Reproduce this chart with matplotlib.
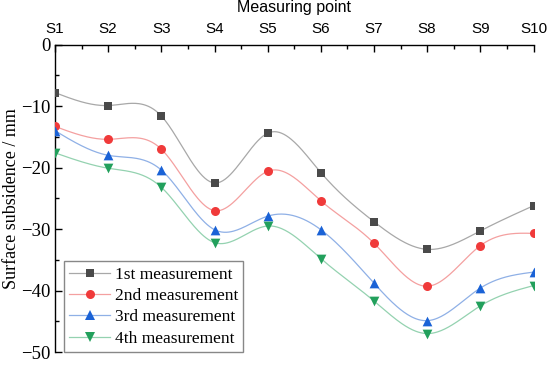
import numpy as np
import matplotlib
matplotlib.use("Agg")
import matplotlib.pyplot as plt
from matplotlib.ticker import MultipleLocator

points = ["S1", "S2", "S3", "S4", "S5", "S6", "S7", "S8", "S9", "S10"]
m1 = [-7.8, -9.9, -11.6, -22.5, -14.4, -20.8, -28.8, -33.3, -30.3, -26.2]
m2 = [-13.3, -15.4, -17.0, -27.0, -20.6, -25.4, -32.3, -39.3, -32.7, -30.7]
m3 = [-14.0, -18.0, -20.4, -30.1, -27.9, -30.1, -38.8, -44.9, -39.6, -37.0]
m4 = [-17.6, -20.1, -23.2, -32.2, -29.5, -34.8, -41.7, -47.0, -42.5, -39.2]
labels = ["1st measurement", "2nd measurement", "3rd measurement", "4th measurement"]

marker_colors = ["#4a4a4a", "#f03a3a", "#1a62d6", "#22a05c"]
line_colors = ["#a8a8a8", "#f4a0a0", "#8fb0e6", "#94d2b0"]
markers = ["s", "o", "^", "v"]
msizes = [6, 6.5, 7, 7]


def natural_spline(x, y, n=400):
    x = np.asarray(x, float)
    y = np.asarray(y, float)
    k = len(x)
    h = np.diff(x)
    A = np.zeros((k, k))
    b = np.zeros(k)
    A[0, 0] = 1
    A[-1, -1] = 1
    for i in range(1, k - 1):
        A[i, i - 1] = h[i - 1]
        A[i, i] = 2 * (h[i - 1] + h[i])
        A[i, i + 1] = h[i]
        b[i] = 3 * ((y[i + 1] - y[i]) / h[i] - (y[i] - y[i - 1]) / h[i - 1])
    c = np.linalg.solve(A, b)
    xs = np.linspace(x[0], x[-1], n)
    ys = np.empty_like(xs)
    for j, xv in enumerate(xs):
        i = min(np.searchsorted(x, xv, side="right") - 1, k - 2)
        dx = xv - x[i]
        bi = (y[i + 1] - y[i]) / h[i] - h[i] * (2 * c[i] + c[i + 1]) / 3
        di = (c[i + 1] - c[i]) / (3 * h[i])
        ys[j] = y[i] + bi * dx + c[i] * dx ** 2 + di * dx ** 3
    return xs, ys


fig = plt.figure(figsize=(5.5, 3.65), dpi=100)
ax = fig.add_axes([0.1, 0.0356, 0.87, 0.842])

xpos = np.arange(len(points))
serif = "Liberation Serif"
for vals, lab, mc, lc, mk, ms in zip([m1, m2, m3, m4], labels, marker_colors, line_colors, markers, msizes):
    xs, ys = natural_spline(xpos, vals)
    ax.plot(xs, ys, color=lc, lw=0.9, zorder=2)
    ax.scatter(xpos, vals, marker=mk, color=mc, s=ms ** 2, linewidths=0, zorder=3)
    ax.plot([], [], color=lc, lw=0.9, marker=mk, markerfacecolor=mc,
            markeredgewidth=0, markersize=ms, label=lab)

ax.set_xlim(0, len(points) - 1)
ax.set_ylim(-50, 0)
ax.xaxis.tick_top()
ax.xaxis.set_label_position("top")
ax.set_xticks(xpos)
ax.set_xticklabels(points, family="Liberation Sans", fontsize=11)
ax.xaxis.set_minor_locator(MultipleLocator(0.5))
ax.set_yticks([0, -10, -20, -30, -40, -50])
ax.set_yticklabels(["0", "\u221210", "\u221220", "\u221230", "\u221240", "\u221250"],
                   family=serif, fontsize=13.5)
ax.yaxis.set_minor_locator(MultipleLocator(5))
ax.tick_params(axis="x", which="major", direction="in", length=5, width=1, pad=6)
ax.tick_params(axis="x", which="minor", direction="in", length=3, width=1)
ax.tick_params(axis="y", which="major", direction="in", length=5, width=1, pad=3)
ax.tick_params(axis="y", which="minor", direction="in", length=3, width=1)
ax.spines["right"].set_visible(False)
ax.spines["bottom"].set_visible(False)
ax.spines["left"].set_linewidth(1)
ax.spines["top"].set_linewidth(1)

ax.set_xlabel("Measuring point", family="Liberation Sans", fontsize=11.5, labelpad=7.5)
ax.set_ylabel("Surface subsidence / mm", family=serif, fontsize=13, labelpad=1)

leg = ax.legend(loc="lower left", bbox_to_anchor=(0.018, 0.0),
                prop={"family": serif, "size": 12.5},
                frameon=True, fancybox=False, edgecolor="#888888", framealpha=1,
                handlelength=2.4, handletextpad=0.25, borderpad=0.3, labelspacing=0.3,
                borderaxespad=0)
leg.get_frame().set_linewidth(1)
leg.set_zorder(5)

fig.savefig("out.png", dpi=100)
